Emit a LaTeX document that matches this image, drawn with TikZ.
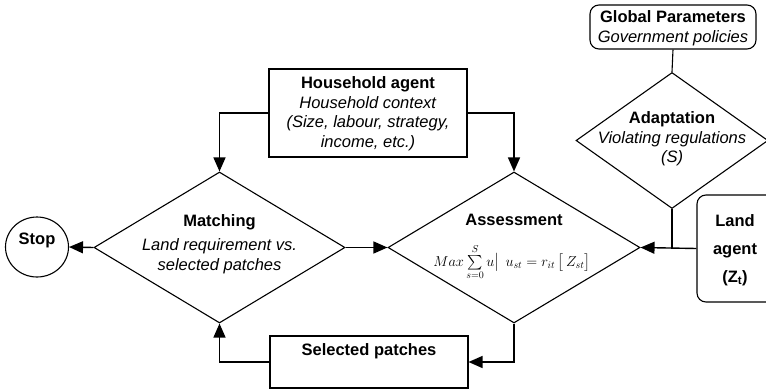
\documentclass[tikz,border=0pt]{standalone}
\usepackage{amsmath,amssymb}
\usepackage{fontspec}
\setmainfont{Liberation Sans}
\usepackage{tikz}
\usetikzlibrary{calc,arrows.meta,positioning,shapes.geometric}
\tikzset{
  ar/.style={-{Triangle[length=14pt,width=12pt]},line width=1.4pt},
  ln/.style={line width=1.4pt},
  box/.style={draw,line width=1.1pt,align=center,inner sep=0pt},
  rbox/.style={box,rounded corners=9pt},
  dia/.style={diamond,draw,line width=1.1pt,align=center,inner sep=0pt},
  tx/.style={align=center,inner sep=0pt,font=\fontsize{16.5}{19.5}\selectfont}
}

\begin{document}
\begin{tikzpicture}[x=1pt,y=-1pt]
\useasboundingbox (0,0) rectangle (766,391);
% shapes
\node[dia,minimum width=251,minimum height=151] (m) at (219.5,247.5) {};
\node[dia,minimum width=252,minimum height=151] (a) at (514,247.5) {};
\node[dia,minimum width=192,minimum height=136] (ad) at (672,140.5) {};
\node[draw,ellipse,line width=1.1pt,minimum width=63,minimum height=60,inner sep=0pt] (stop) at (37,247) {};
\node[box,minimum width=198,minimum height=88] (hh) at (368,113) {};
\node[box,minimum width=198,minimum height=52] (sp) at (369,362) {};
\node[rbox,minimum width=166,minimum height=44] (gp) at (673,27) {};
\node[rbox,minimum width=80,minimum height=107] (la) at (737,248.5) {};
% texts
\node[tx] (stoptx) at (37,240) {\textbf{Stop}};
\node[tx] (mtx) at (219.5,244) {\textbf{Matching}\\[5pt]\textit{Land requirement vs.}\\\textit{selected patches}};
\node[tx] (atx) at (514,220) {\textbf{Assessment}};
\node[inner sep=0pt,font=\fontsize{14.5}{17}\selectfont] (frm) at (512,262)
  {$Max\sum\limits_{s=0}^{S}u\big|\;\, u_{st}=r_{it}\,\big[\,Z_{st}\big]$};
\node[tx] (adtx) at (672,139) {\textbf{Adaptation}\\\textit{Violating regulations}\\\textit{(S)}};
\node[tx] (hhtx) at (368,113.5) {\textbf{Household agent}\\\textit{Household context}\\\textit{(Size, labour, strategy,}\\\textit{income, etc.)}};
\node[tx] (sptx) at (369,351) {\textbf{Selected patches}};
\node[tx] (gptx) at (673,28) {\textbf{Global Parameters}\\\textit{Government policies}};
\node[tx,font=\fontsize{16.5}{28}\selectfont\bfseries] (latx) at (735,250) {Land\\agent\\(Z\textsubscript{t})};
% connectors
\coordinate (j) at (ad.south |- la.west);
\draw[ar] (hh.west) -| (m.north);
\draw[ar] (hh.east) -| (a.north);
\draw[ar] (m.east) -- (a.west);
\draw[ar] (m.west) -- (stop.east);
\draw[ar] (a.south) |- (sp.east);
\draw[ar] (sp.west) -| (m.south);
\draw[ar] (la.west) -- (a.east);
\draw[ln] (ad.south) -- (j);
\draw[line width=1.1pt] (gp.south) -- (ad.north);
\end{tikzpicture}
\end{document}
